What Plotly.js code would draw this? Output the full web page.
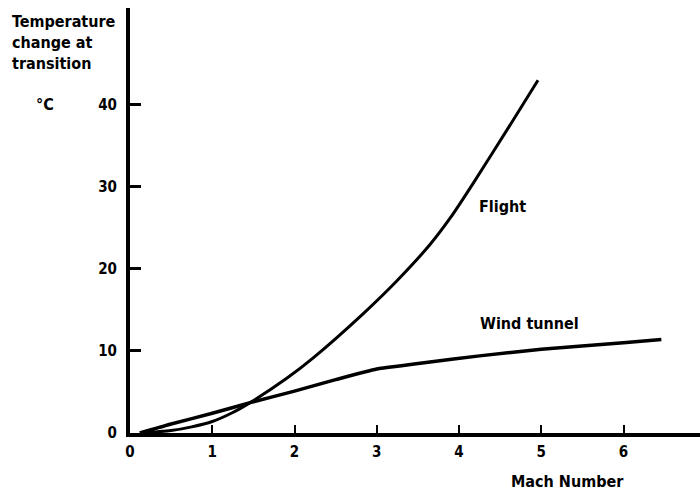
<!DOCTYPE html>
<html>
<head>
<meta charset="utf-8">
<script src="https://cdn.plot.ly/plotly-3.0.1.min.js"></script>
<style>html,body{margin:0;padding:0;background:#fff;}#chart{width:700px;height:496px;}</style>
</head>
<body>
<div id="chart"></div>
<script>
const flightMach = [0.12, 0.5, 0.75, 1.0, 1.25, 1.46, 1.91, 2.22, 2.83, 3.24, 3.65, 3.9, 4.17, 4.65, 4.96];
const flightTemp = [0.0, 0.3, 0.75, 1.4, 2.5, 3.7, 6.7, 9.1, 14.5, 18.5, 23.0, 26.3, 30.4, 38.0, 43.0];
const tunnelMach = [0.12, 0.5, 1.0, 1.46, 2.0, 2.5, 3.0, 3.3, 3.6, 4.25, 5.0, 6.0, 6.46];
const tunnelTemp = [0.0, 1.1, 2.4, 3.7, 5.1, 6.5, 7.8, 8.2, 8.6, 9.4, 10.2, 11.0, 11.4];
const xTicks = [0, 1, 2, 3, 4, 5, 6];
const yTicks = [0, 10, 20, 30, 40];
const yTitleLines = ["Temperature", "change at", "transition"];
const yUnit = "°C";
const xTitle = "Mach Number";
const seriesNames = ["Flight", "Wind tunnel"];

const fam = "DejaVu Sans Condensed, DejaVu Sans, sans-serif";
const fnt = {family: fam, size: 16, color: "#000", weight: "bold"};
const tfnt = {family: fam, size: 15, color: "#000", weight: "bold"};

const traces = [
  {x: flightMach, y: flightTemp, mode: "lines", line: {color: "#000", width: 3, shape: "spline", smoothing: 0.8}, name: seriesNames[0], hoverinfo: "skip"},
  {x: tunnelMach, y: tunnelTemp, mode: "lines", line: {color: "#000", width: 3.5, shape: "spline", smoothing: 0.6}, name: seriesNames[1], hoverinfo: "skip"}
];

const layout = {
  width: 700, height: 496,
  margin: {l: 130, r: 0, t: 8, b: 63},
  paper_bgcolor: "#fff", plot_bgcolor: "#fff",
  showlegend: false,
  font: fnt,
  xaxis: {
    range: [0, 6.93], tickvals: xTicks, ticktext: xTicks.map(String),
    showgrid: false, zeroline: false, showline: true, linecolor: "#000", linewidth: 4,
    ticks: "inside", ticklen: 8, tickwidth: 2, tickcolor: "#000",
    tickfont: tfnt, ticklabelstandoff: 2
  },
  yaxis: {
    range: [0, 51.8], tickvals: yTicks, ticktext: yTicks.map(String),
    showgrid: false, zeroline: false, showline: true, linecolor: "#000", linewidth: 4,
    ticks: "inside", ticklen: 11, tickwidth: 3, tickcolor: "#000",
    tickfont: tfnt, ticklabelstandoff: 6
  },
  annotations: [
    {xref: "paper", yref: "paper", x: -0.21, y: 0.995, xanchor: "left", yanchor: "top", align: "left",
     text: yTitleLines.join("<br>"), showarrow: false, font: fnt},
    {xref: "paper", yref: "paper", x: -0.149, y: 0.772, xanchor: "center", yanchor: "middle",
     text: yUnit, showarrow: false, font: fnt},
    {xref: "paper", yref: "paper", x: 0.767, y: -0.115, xanchor: "center", yanchor: "middle",
     text: xTitle, showarrow: false, font: fnt},
    {x: 4.53, y: 27.6, xanchor: "center", yanchor: "middle", text: seriesNames[0], showarrow: false, font: fnt},
    {x: 4.86, y: 13.3, xanchor: "center", yanchor: "middle", text: seriesNames[1], showarrow: false, font: fnt}
  ]
};

Plotly.newPlot("chart", traces, layout, {displayModeBar: false, staticPlot: true});
</script>
</body>
</html>
